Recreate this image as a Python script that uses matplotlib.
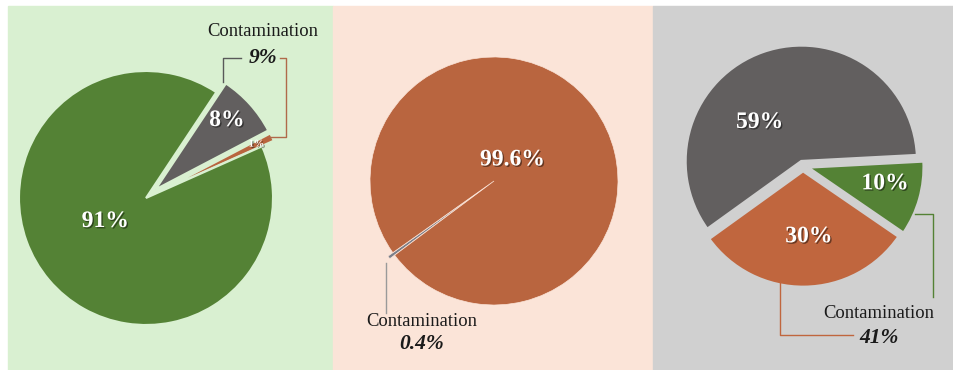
import matplotlib.pyplot as plt
import matplotlib.patheffects as pe
import numpy as np

# ---- data ----
p1_labels = ["1%", "8%", "91%"]
p1_values = [1, 8, 91]
p2_labels = ["", "99.6%"]
p2_values = [0.4, 99.6]
p3_labels = ["59%", "30%", "10%"]
p3_values = [59.1, 30.5, 10.4]
contam_labels = ["9%", "0.4%", "41%"]

W, H = 954, 370
GREEN = "#548235"
ORANGE = "#b9653f"
GRAY = "#625f5f"
BG = ["#d9f0d1", "#fbe4d8", "#d0d0d0"]

plt.rcParams['font.family'] = ['Liberation Serif', 'DejaVu Serif']

fig = plt.figure(figsize=(W / 100, H / 100), dpi=100)
ax = fig.add_axes([0, 0, 1, 1])


def Y(y):
    # pixel row (from top) -> data y
    return H - y


# panel backgrounds
for (x0, x1), c in zip([(8, 333), (333, 653), (653, 954)], BG):
    ax.add_patch(plt.Rectangle((x0, 0), x1 - x0, H - 6, color=c, zorder=0))

shadow = [pe.withSimplePatchShadow(offset=(1, -1), alpha=0.45, shadow_rgbFace='k')]


def draw_pie(values, labels, colors, center, r, start, explode, edge, lw, lab_pos, sizes):
    wedges, _ = ax.pie(values, colors=colors, startangle=start, counterclock=True,
                       center=center, radius=r, explode=explode, frame=True,
                       wedgeprops=dict(edgecolor=edge, linewidth=lw))
    for w, lab, (d, ang), fs in zip(wedges, labels, lab_pos, sizes):
        if not lab:
            continue
        cx, cy = w.center
        a = np.deg2rad(ang)
        ax.text(cx + d * np.cos(a), cy + d * np.sin(a), lab, color='white',
                fontsize=fs, fontweight='bold', ha='center', va='center',
                path_effects=shadow, zorder=5)
    return wedges


# pie 1
draw_pie(p1_values, p1_labels, [ORANGE, GRAY, GREEN], (146, Y(198)), 127, 24,
         [13, 13, 0], BG[0], 1.5, [(110, 26), (99, 44), (47, 210)], [7.5, 17, 17])
# pie 2
draw_pie(p2_values, p2_labels, ["#7a7f8a", ORANGE], (494, Y(181)), 124, 215.3,
         [6, 0], BG[1], 0.5, [(0, 0), (28, 49)], [17, 17])
# pie 3
draw_pie(p3_values, p3_labels, [GRAY, "#c0663e", GREEN], (803, Y(166)), 116, 3,
         [5, 5, 5], BG[2], 2, [(57, 137), (66, 275), (79, 348)], [17, 17, 17])

# callouts
def line(xs, ys, c):
    ax.plot(xs, [Y(v) for v in ys], color=c, lw=1, zorder=4)

line([223, 223, 241], [82, 58, 58], "#595959")
line([280, 286, 286, 268], [58, 58, 137, 137], "#b06a4a")
line([386, 386], [263, 313], "#9a9a9a")
line([780, 780, 853], [283, 335, 335], "#c0663e")
line([915, 933, 933], [214, 214, 297], GREEN)

tc = "#1a1a1a"
for x, y1, y2, pct in [(263, 32, 58, contam_labels[0]),
                       (422, 322, 344, contam_labels[1]),
                       (879, 313, 338, contam_labels[2])]:
    ax.text(x, Y(y1), "Contamination", fontsize=13.4, color=tc, ha='center', va='center')
    ax.text(x, Y(y2), pct, fontsize=15.5, color=tc, fontweight='bold', fontstyle='italic',
            ha='center', va='center')

ax.set_xlim(0, W)
ax.set_ylim(0, H)
ax.set_aspect('auto')
ax.axis('off')

fig.savefig("out.png", dpi=100)
